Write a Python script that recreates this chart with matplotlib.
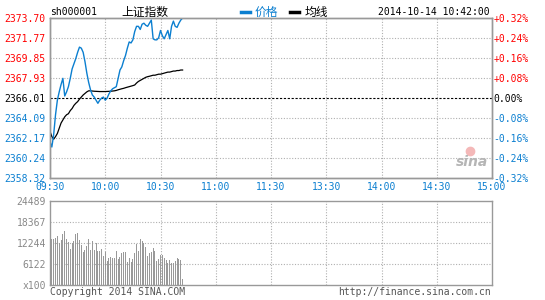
import matplotlib
matplotlib.use("Agg")
import matplotlib.pyplot as plt
from matplotlib.lines import Line2D

# minute-by-minute data, 09:30 .. 10:42
price = [2361.8, 2361.3, 2362.5, 2364.4, 2365.8, 2366.6, 2367.3, 2367.9, 2366.2, 2366.6,
         2367.1, 2367.9, 2368.8, 2369.3, 2369.8, 2370.4, 2370.9, 2370.8, 2370.4, 2369.5,
         2368.4, 2367.5, 2366.8, 2366.3, 2366.1, 2365.8, 2365.5, 2365.8, 2366.0, 2366.1,
         2365.8, 2366.0, 2366.4, 2366.7, 2366.9, 2367.0, 2367.1, 2367.9, 2368.7, 2369.0,
         2369.6, 2370.1, 2370.8, 2371.4, 2371.3, 2371.6, 2372.4, 2372.9, 2372.9, 2372.6,
         2373.1, 2373.2, 2373.0, 2372.9, 2373.2, 2373.5, 2371.7, 2371.6, 2371.6, 2371.8,
         2372.5, 2372.0, 2371.7, 2372.1, 2372.5, 2371.7, 2372.9, 2373.4, 2372.9, 2372.8,
         2373.2, 2373.5, 2373.7]
avg_price = [2362.8, 2362.3, 2362.05, 2362.3, 2362.6, 2363.1, 2363.6, 2363.9, 2364.2, 2364.4,
             2364.5, 2364.8, 2365.0, 2365.3, 2365.5, 2365.66, 2365.9, 2366.1, 2366.3, 2366.45,
             2366.6, 2366.7, 2366.7, 2366.68, 2366.66, 2366.65, 2366.64, 2366.63, 2366.63, 2366.63,
             2366.63, 2366.64, 2366.65, 2366.66, 2366.68, 2366.7, 2366.74, 2366.8, 2366.85, 2366.9,
             2366.94, 2367.0, 2367.05, 2367.1, 2367.15, 2367.2, 2367.26, 2367.45, 2367.6, 2367.7,
             2367.8, 2367.9, 2368.0, 2368.06, 2368.1, 2368.15, 2368.2, 2368.2, 2368.25, 2368.3,
             2368.3, 2368.35, 2368.4, 2368.45, 2368.5, 2368.5, 2368.55, 2368.6, 2368.6, 2368.65,
             2368.65, 2368.7, 2368.7]
volume = [13000, 13410, 13410, 13800, 14380, 12150, 13120, 14960, 15740, 13410,
          12630, 10490, 12150, 12830, 14870, 15160, 13120, 11660, 9710, 10200,
          11460, 13410, 10200, 12830, 10200, 12150, 10000, 10000, 10490, 8450,
          9710, 7000, 7970, 8260, 7780, 7780, 9910, 7490, 8070, 9420,
          9710, 9520, 6800, 7780, 6800, 7580, 9420, 11950, 10000, 13410,
          12830, 12150, 10980, 8450, 9420, 9710, 10690, 9910, 6995, 7480,
          8745, 8745, 7780, 7290, 6315, 7290, 6315, 6315, 7000, 7780,
          7480, 7290, 1750]

prev_close = 2366.01
price_ticks = [2373.70, 2371.77, 2369.85, 2367.93, 2366.01, 2364.09, 2362.17, 2360.24, 2358.32]
pct_labels = ["+0.32%", "+0.24%", "+0.16%", "+0.08%", "0.00%", "-0.08%", "-0.16%", "-0.24%", "-0.32%"]
time_ticks = [0, 30, 60, 90, 120, 150, 180, 210, 240]
time_labels = ["09:30", "10:00", "10:30", "11:00", "11:30", "13:30", "14:00", "14:30", "15:00"]
vol_ticks = [0, 6122, 12244, 18367, 24489]
vol_labels = ["x100", "6122", "12244", "18367", "24489"]

BLUE = "#0b7fd0"
RED = "#ff0000"
GRAY = "#999999"
MONO = "DejaVu Sans Mono"
CJK = ["Noto Sans CJK SC", "DejaVu Sans"]
FS = 7

fig = plt.figure(figsize=(5.45, 3.0), dpi=100)
ax = fig.add_axes([50 / 545, 122 / 300, 442 / 545, 160 / 300])
axv = fig.add_axes([50 / 545, 15 / 300, 442 / 545, 84 / 300])

minutes = list(range(len(price)))
grid_kw = dict(color="#b0b0b0", lw=0.8, ls=(0, (1, 1.5)), zorder=1)

# price panel
ax.set_xlim(0, 240)
ax.set_ylim(price_ticks[-1], price_ticks[0])
for t in time_ticks[1:-1]:
    ax.axvline(t, **grid_kw)
for p in price_ticks[1:-1]:
    if p != prev_close:
        ax.axhline(p, **grid_kw)
ax.axhline(prev_close, color="black", lw=0.8, ls=(0, (2, 1.5)), zorder=2)
ax.plot(minutes, price, color=BLUE, lw=1.0, zorder=4)
ax.plot(minutes, avg_price, color="black", lw=0.9, zorder=3)

ax.set_yticks(price_ticks)
ax.set_yticklabels([f"{p:.2f}" for p in price_ticks], fontfamily=MONO, fontsize=FS)
for lbl, p in zip(ax.get_yticklabels(), price_ticks):
    lbl.set_color(RED if p > prev_close else ("black" if p == prev_close else BLUE))
ax.set_xticks(time_ticks)
ax.set_xticklabels(time_labels, fontfamily=MONO, fontsize=FS, color=BLUE)
ax.tick_params(length=0, pad=3)

axr = ax.twinx()
axr.set_ylim(ax.get_ylim())
axr.set_yticks(price_ticks)
axr.set_yticklabels(pct_labels, fontfamily=MONO, fontsize=FS)
for lbl, p in zip(axr.get_yticklabels(), price_ticks):
    lbl.set_color(RED if p > prev_close else ("black" if p == prev_close else BLUE))
axr.tick_params(length=0, pad=1)

for a in (ax, axr, axv):
    for s in a.spines.values():
        s.set_color(GRAY)
        s.set_linewidth(1.0)

# volume panel
axv.set_xlim(0, 240)
axv.set_ylim(0, vol_ticks[-1])
for t in time_ticks[1:-1]:
    axv.axvline(t, **grid_kw)
for v in vol_ticks[1:-1]:
    axv.axhline(v, **grid_kw)
axv.bar(minutes, volume, width=0.55, color=GRAY, zorder=2, antialiased=False)
axv.set_xticks([])
axv.set_yticks(vol_ticks)
axv.set_yticklabels(vol_labels, fontfamily=MONO, fontsize=FS, color="#888888")
axv.tick_params(length=0, pad=3)

# header
fig.text(50 / 545, 1 - 12 / 300, "sh000001", fontfamily=MONO, fontsize=FS, va="center", ha="left")
fig.text(145 / 545, 1 - 12 / 300, "上证指数", family=CJK, fontsize=8.5, va="center", ha="center")
fig.add_artist(Line2D([241 / 545, 250 / 545], [1 - 12 / 300] * 2, color=BLUE, lw=2.5))
fig.text(255 / 545, 1 - 12 / 300, "价格", family=CJK, fontsize=8.5, va="center", ha="left", color=BLUE)
fig.add_artist(Line2D([290 / 545, 299 / 545], [1 - 12 / 300] * 2, color="black", lw=2.5))
fig.text(305 / 545, 1 - 12 / 300, "均线", family=CJK, fontsize=8.5, va="center", ha="left")
fig.text(490 / 545, 1 - 12 / 300, "2014-10-14 10:42:00", fontfamily=MONO, fontsize=FS,
         va="center", ha="right")

# footer
fig.text(50 / 545, 1 - 292 / 300, "Copyright 2014 SINA.COM", fontfamily=MONO, fontsize=FS,
         va="center", ha="left", color="#555555")
fig.text(491 / 545, 1 - 292 / 300, "http://finance.sina.com.cn", fontfamily=MONO, fontsize=FS,
         va="center", ha="right", color="#555555")

# watermark
fig.text(472 / 545, 1 - 162 / 300, "sina", fontsize=10, fontweight="bold", style="italic",
         color="#b5b5b5", ha="center", va="center")
fig.add_artist(Line2D([470 / 545], [1 - 151 / 300], marker="o", ms=6, color="#f4b8b8", mec="#f4b8b8"))

fig.savefig("out.png", dpi=100)
